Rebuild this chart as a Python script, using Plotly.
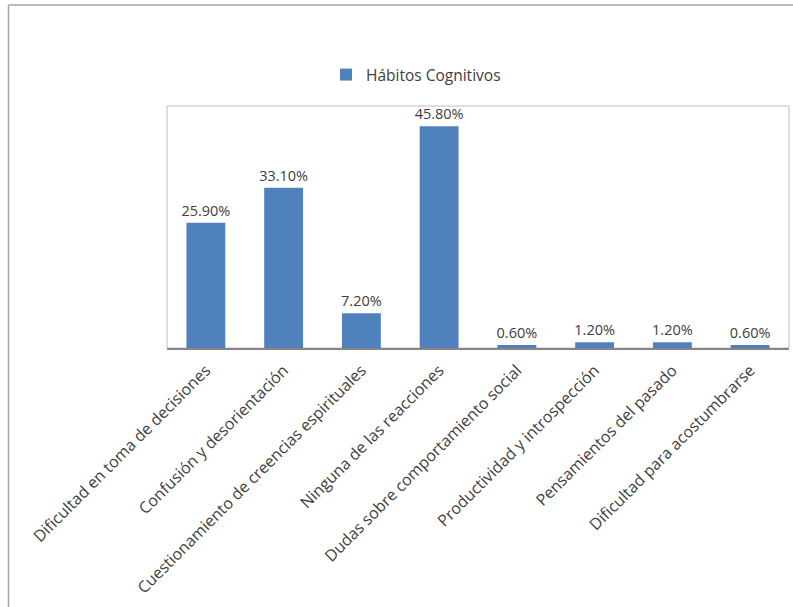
import plotly.graph_objects as go

categories = [
    "Dificultad en toma de decisiones",
    "Confusión y desorientación",
    "Cuestionamiento de creencias espirituales",
    "Ninguna de las reacciones",
    "Dudas sobre comportamiento social",
    "Productividad y introspección",
    "Pensamientos del pasado",
    "Dificultad para acostumbrarse",
]
values = [25.9, 33.1, 7.2, 45.8, 0.6, 1.2, 1.2, 0.6]
labels = [f"{v:.2f}%" for v in values]
series_name = "Hábitos Cognitivos"

W, H = 793, 607
L, R, T, B = 167, 4, 106, 259
pw = W - L - R
ph = H - T - B

def px_x(x):
    return (x - L) / pw

def px_y(y):
    return (H - B - y) / ph

font = "Open Sans"

fig = go.Figure()
fig.add_trace(go.Bar(
    x=categories, y=values, name=series_name,
    marker=dict(color="#4f81bd", line=dict(width=0)),
    text=labels, textposition="outside", cliponaxis=False, constraintext="none",
    textfont=dict(family=font, size=14.5, color="#404040"),
    showlegend=True,
))

fig.update_layout(
    width=W, height=H,
    margin=dict(l=L, r=R, t=T, b=B),
    paper_bgcolor="white", plot_bgcolor="white",
    bargap=0.5,
    showlegend=True,
    legend=dict(orientation="h", x=px_x(326), y=px_y(58), xanchor="left", yanchor="top",
                font=dict(family=font, size=15.5, color="#404040"),
                itemwidth=30, bgcolor="rgba(0,0,0,0)"),
    xaxis=dict(tickangle=-45, showgrid=False, showline=True, linecolor="#868686", linewidth=1.5,
               ticks="", ticklabelstandoff=5,
               tickfont=dict(family=font, size=16, color="#404040")),
    yaxis=dict(range=[0, 50], visible=False, showgrid=False),
    shapes=[
        dict(type="rect", xref="paper", yref="paper", x0=0, x1=1, y0=0, y1=1,
             line=dict(color="#bfbfbf", width=1), layer="below"),
        dict(type="line", xref="paper", yref="paper", x0=px_x(8.5), x1=px_x(8.5),
             y0=px_y(5), y1=px_y(H + 5), line=dict(color="#a6a6a6", width=1.5)),
        dict(type="line", xref="paper", yref="paper", x0=px_x(8.5), x1=px_x(W + 5),
             y0=px_y(5), y1=px_y(5), line=dict(color="#a6a6a6", width=1.5)),
    ],
)

fig.write_html("out.html")
